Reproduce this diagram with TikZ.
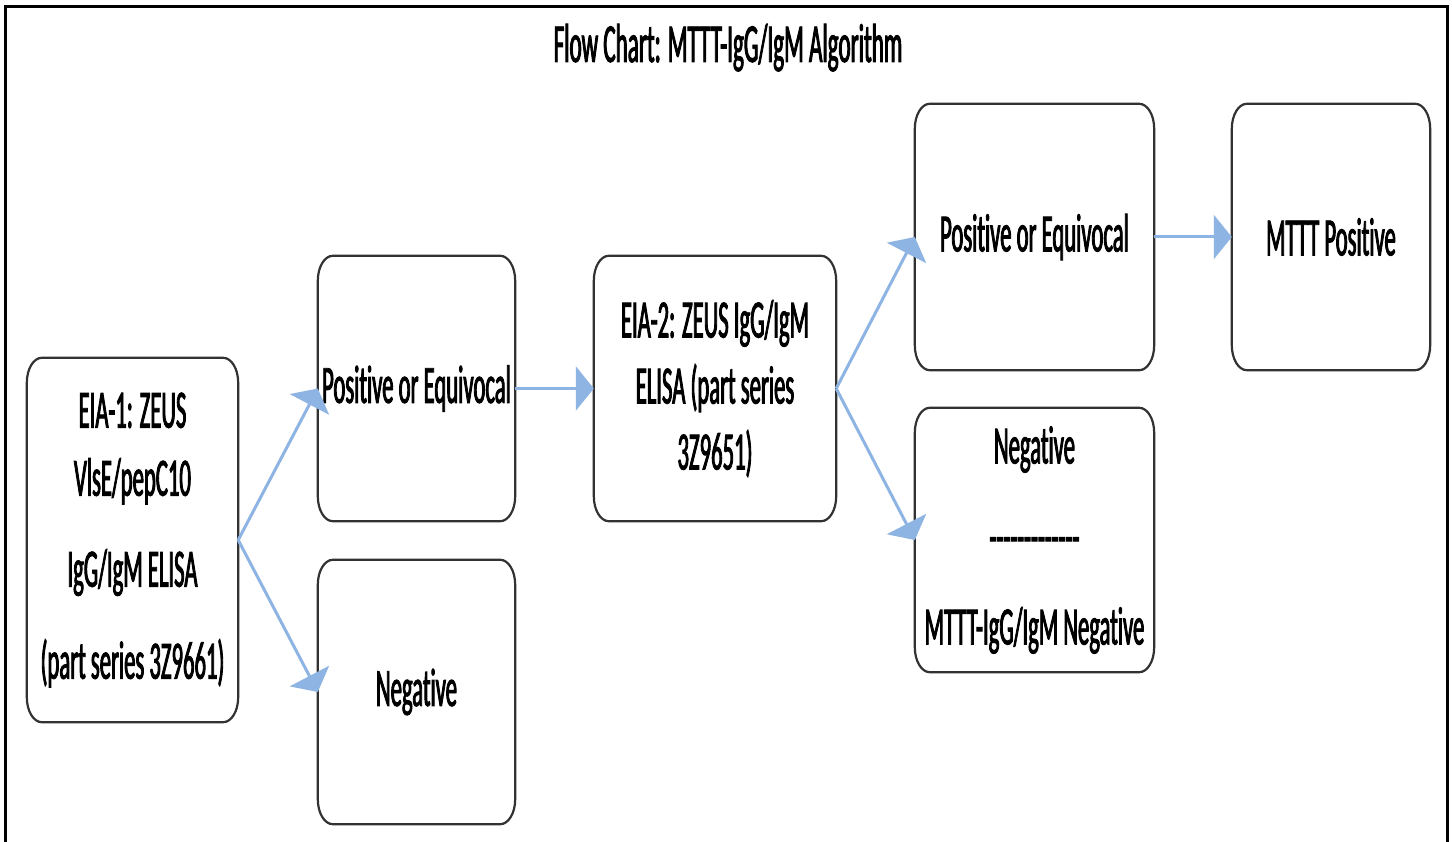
\documentclass[tikz,border=0pt]{standalone}
\usepackage{fontspec}
\setmainfont{Carlito}[FakeStretch=0.42, FakeBold=1.6, Ligatures={NoCommon}]
\usetikzlibrary{arrows.meta}
\definecolor{arrowblue}{RGB}{141,180,226}
\definecolor{edgegray}{RGB}{50,50,50}
\newcommand\drawrbox[1]{%
  \draw[boxline] ([yshift=-25pt]#1.north west) -- ([yshift=25pt]#1.south west)
    arc[start angle=180,end angle=270,x radius=15pt,y radius=25pt]
    -- ([xshift=-15pt]#1.south east)
    arc[start angle=270,end angle=360,x radius=15pt,y radius=25pt]
    -- ([yshift=-25pt]#1.north east)
    arc[start angle=0,end angle=90,x radius=15pt,y radius=25pt]
    -- ([xshift=15pt]#1.north west)
    arc[start angle=90,end angle=180,x radius=15pt,y radius=25pt] -- cycle;}
\begin{document}
\begin{tikzpicture}[x=1pt,y=-1pt,
  boxline/.style={draw=edgegray, line width=2.2pt},
  boxnode/.style={inner sep=0pt, align=center, font=\fontsize{54}{66}\selectfont},
  flow/.style={draw=arrowblue, line width=3pt, -{Triangle[length=18pt,width=44pt]}}]
\useasboundingbox (0,0) rectangle (1452,842);
\fill[white] (0,0) rectangle (1452,842);
\draw[line width=3pt] (5,846) -- (5,7) -- (1447,7) -- (1447,846);

\node[font=\fontsize{55}{66}\selectfont, anchor=base] (title) at (728,62) {Flow Chart: MTTT-IgG/IgM Algorithm};

\node[boxnode, minimum width=211pt, minimum height=364pt, font=\fontsize{54}{68}\selectfont] (A) at (132.5,540)
  {EIA-1: ZEUS\\VlsE/pepC10\\[23pt]IgG/IgM ELISA\\[24pt](part series 3Z9661)};
\node[boxnode, minimum width=197pt, minimum height=265pt] (B) at (416.5,388.5) {Positive or Equivocal};
\node[boxnode, minimum width=197pt, minimum height=264pt] (C) at (416.5,692) {Negative};
\node[boxnode, minimum width=242pt, minimum height=265pt] (D) at (715,388.5)
  {EIA-2: ZEUS IgG/IgM\\ELISA (part series\\3Z9651)};
\node[boxnode, minimum width=239pt, minimum height=266pt] (E) at (1034.5,237) {Positive or Equivocal};
\node[boxnode, minimum width=239pt, minimum height=264pt] (F) at (1034.5,540)
  {Negative\\[25pt]-{}-{}-{}-{}-{}-{}-{}-{}-{}-{}-{}-{}-\\[24pt]MTTT-IgG/IgM Negative};
\node[boxnode, minimum width=198pt, minimum height=266pt] (G) at (1331,237) {MTTT Positive};

\drawrbox{A}
\drawrbox{B}
\drawrbox{C}
\drawrbox{D}
\drawrbox{E}
\drawrbox{F}
\drawrbox{G}

\draw[flow] (A.east) -- (B.west);
\draw[flow] (A.east) -- (C.west);
\draw[flow] (B.east) -- (D.west);
\draw[flow] (D.east) -- (E.west);
\draw[flow] (D.east) -- (F.west);
\draw[flow] (E.east) -- (G.west);
\end{tikzpicture}
\end{document}
